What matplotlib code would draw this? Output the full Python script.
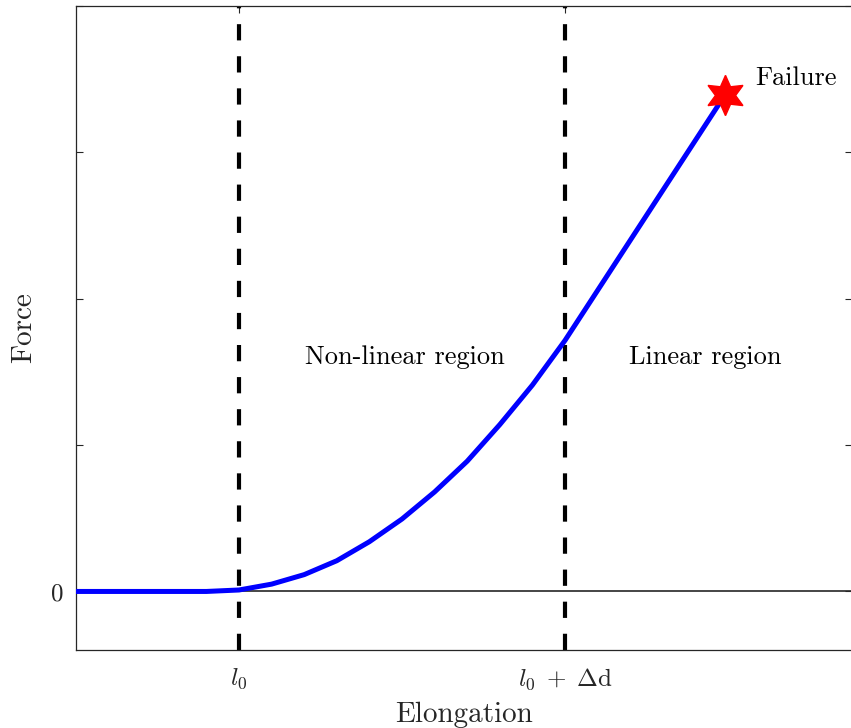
import numpy as np
import matplotlib.pyplot as plt

plt.rcParams['mathtext.fontset'] = 'cm'
plt.rcParams['font.family'] = 'cmr10'
plt.rcParams['axes.formatter.use_mathtext'] = True

# force-elongation curve: slack, non-linear toe, then linear up to failure
elong = [0.5, 0.9, 1.0, 1.1, 1.2, 1.3, 1.4, 1.5, 1.6, 1.7, 1.8, 1.9, 2.0, 2.49]
force = [0.0, 0.0, 0.01, 0.05, 0.115, 0.21, 0.34, 0.495, 0.68, 0.89, 1.14, 1.41, 1.715, 3.39]

l0 = 1.0
dd = 1.0
xtick_labels = [r'$l_0$', r'$l_0\;+\;\Delta\mathrm{d}$']

ink = '#262626'

fig = plt.figure(figsize=(8.51, 7.28), dpi=100)
ax = fig.add_axes([76 / 851, 78 / 728, 776 / 851, 644 / 728])

ax.axhline(0, color=ink, lw=1.2, zorder=1)
for xv in (l0, l0 + dd):
    ln = ax.axvline(xv, color='k', lw=3.0, zorder=2)
    ln.set_dashes([3.9, 3.8])

ax.plot(elong, force, color=(0, 0, 1), lw=3.6, zorder=3)
ax.plot(elong[-1], force[-1], marker=(6, 1, 0), color='r', ms=29, zorder=4)

ax.text(2.585, 3.51, 'Failure', fontsize=19, ha='left', va='center', color='k')
ax.text(1.51, 1.6, 'Non-linear region', fontsize=19, ha='center', va='center', color='k')
ax.text(2.43, 1.6, 'Linear region', fontsize=19, ha='center', va='center', color='k')

ax.set_xlim(0.5, 0.5 + 776 / 326)
ax.set_ylim(-0.4, 4.0)
ax.set_xticks([l0, l0 + dd])
ax.set_xticklabels(xtick_labels)
ax.set_yticks([0, 1, 2, 3, 4])
ax.set_yticklabels(['0', '', '', '', ''])
ax.tick_params(direction='in', length=5, width=0.8, colors=ink, labelsize=18,
               right=True, top=True, pad=9)
ax.tick_params(axis='x', pad=12)
for s in ax.spines.values():
    s.set_color(ink)
    s.set_linewidth(0.9)

ax.set_xlabel('Elongation', fontsize=21, color=ink, labelpad=7)
ax.set_ylabel('Force', fontsize=21, color=ink, labelpad=10)

plt.savefig('out.png', dpi=100)
